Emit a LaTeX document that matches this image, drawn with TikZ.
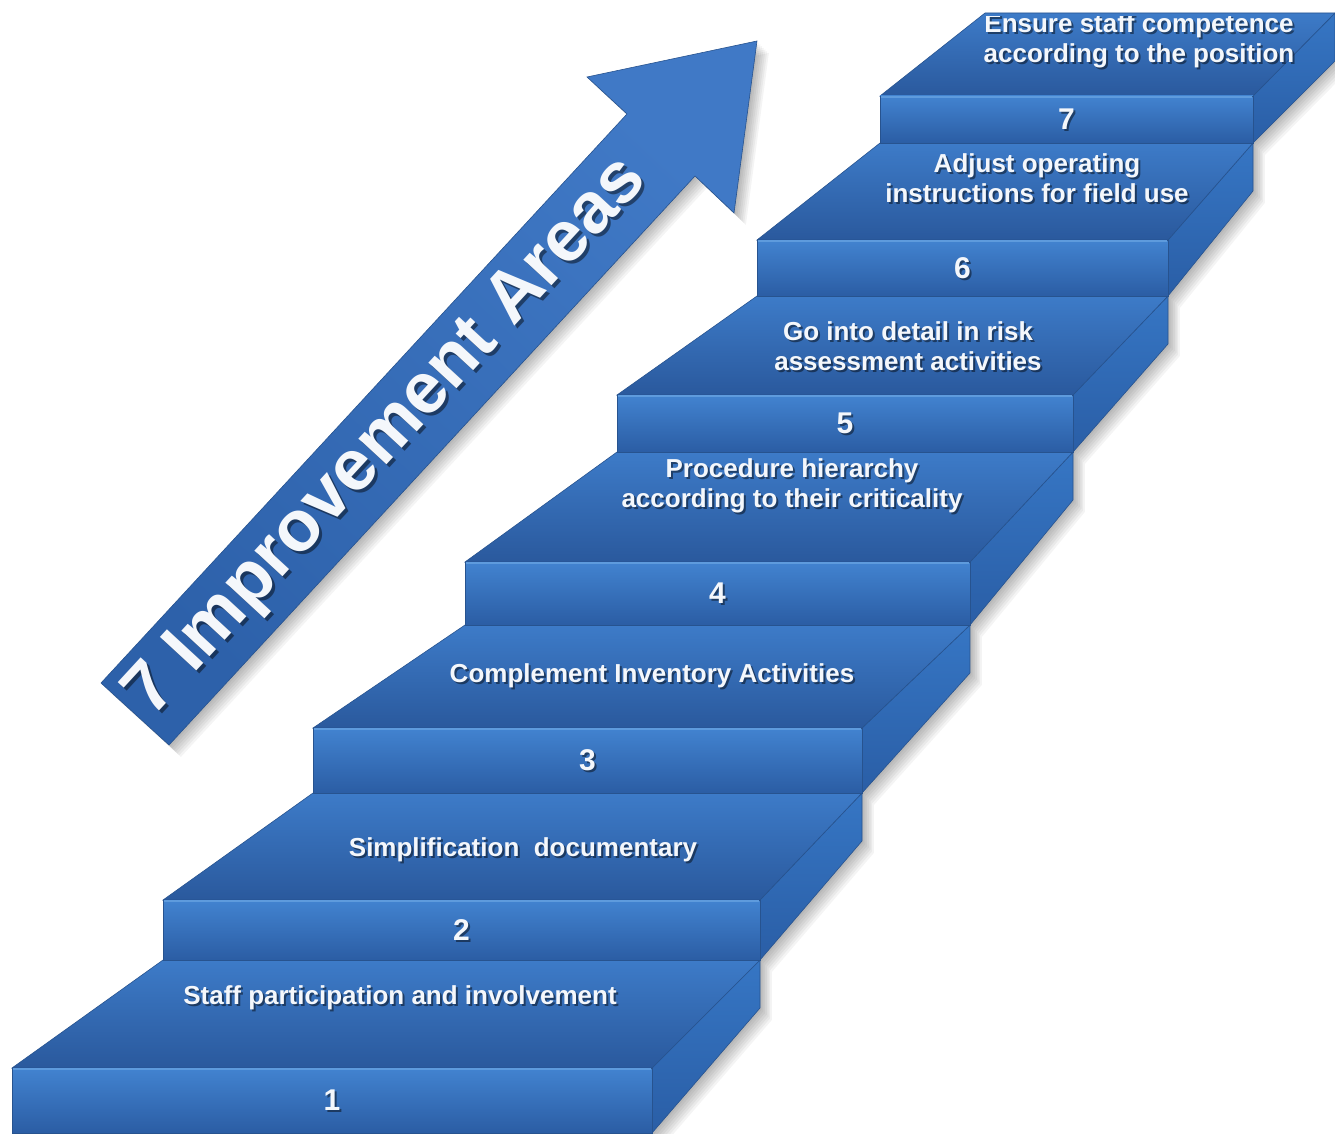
\documentclass[tikz,border=0pt]{standalone}
\usepackage{fontspec}
\setmainfont{Liberation Sans}
\definecolor{frontT}{HTML}{4283D0}
\definecolor{frontB}{HTML}{2B5DA4}
\definecolor{topT}{HTML}{3D7BC8}
\definecolor{topB}{HTML}{2A599D}
\definecolor{sideT}{HTML}{3676C4}
\definecolor{sideB}{HTML}{2A5EA6}
\definecolor{edgeC}{HTML}{27538F}
\definecolor{hiC}{HTML}{5E9BDD}
\definecolor{txtC}{HTML}{F4F7FB}
\definecolor{arrA}{HTML}{4079C6}
\definecolor{arrB}{HTML}{2D61AA}
\begin{document}
\begin{tikzpicture}[x=1pt,y=-1pt,
  frontface/.style={top color=frontT, bottom color=frontB, draw=edgeC, line width=0.6pt},
  topface/.style={top color=topT, bottom color=topB, draw=edgeC, line width=0.6pt},
  sideface/.style={top color=sideT, bottom color=sideB, draw=edgeC, line width=0.6pt},
  hiline/.style={draw=hiC, line width=1.2pt},
  steptext/.style={text=txtC, font=\fontsize{26}{30}\selectfont\bfseries, align=center, inner sep=0pt},
  stepnum/.style={text=txtC, font=\fontsize{30}{32}\selectfont\bfseries, inner sep=0pt},
  textshadow/.style={text=black, text opacity=0.45},
  softshadow/.style={fill=black, fill opacity=0.045},
  arrowbody/.style={left color=arrA, right color=arrB, shading angle=-43, draw=edgeC, line width=0.6pt},
  titletext/.style={text=txtC, font=\fontsize{72}{76}\selectfont\bfseries, inner sep=0pt},
]
\useasboundingbox (0,0) rectangle (1335,1134);
\fill[white] (0,0) rectangle (1335,1134);

\def\stairsil{(12,1133) -- (652,1133) -- (760,1008) -- (760,960) -- (862,841) -- (862,793) -- (970,673) -- (970,625) -- (1073,500) -- (1073,452) -- (1168,344) -- (1168,296) -- (1253,191) -- (1253,143) -- (1335,60) -- (1335,13) -- (985,13) -- (880,96) -- (880,143) -- (757,240) -- (757,296) -- (617,395) -- (617,452) -- (465,562) -- (465,625) -- (313,728) -- (313,793) -- (163,900) -- (163,960) -- (12,1068) -- cycle}
\def\arrsil{(101,683) -- (627,114) -- (587,77) -- (757,41) -- (734,213) -- (695,176) -- (169,745) -- cycle}

% soft shadows
\foreach \k in {1,...,7}{
  \path[softshadow, shift={(\k*1.7,\k*1.7)}] \stairsil;
  \path[softshadow, shift={(\k*1.7,\k*1.7)}] \arrsil;
}

% arrow
\path[arrowbody] \arrsil;
\node[titletext, textshadow, rotate=47.3] (titles) at (391,441) {7 Improvement Areas};
\node[titletext, rotate=47.3] (title) at (388,438) {7 Improvement Areas};

% steps
\foreach \i/\xl/\xr/\yt/\yb/\nxl/\nxr/\nyb in {1/12/652/1068/1133/163/760/960, 2/163/760/900/960/313/862/793, 3/313/862/728/793/465/970/625, 4/465/970/562/625/617/1073/452, 5/617/1073/395/452/757/1168/296, 6/757/1168/240/296/880/1253/143, 7/880/1253/96/143/985/1335/13}{
  \path[sideface] (\xr,\yt) -- (\nxr,\nyb) -- (\nxr,\nyb+48) -- (\xr,\yb) -- cycle;
  \path[topface] (\xl,\yt) -- (\xr,\yt) -- (\nxr,\nyb) -- (\nxl,\nyb) -- cycle;
  \path[frontface] (\xl,\yt) rectangle (\xr,\yb);
  \draw[hiline] (\xl+1,\yt+1) -- (\xr-1,\yt+1);
  \node[stepnum, textshadow] (ns\i) at ({(\xl+\xr)/2+2},{(\yt+\yb)/2+2}) {\i};
  \node[stepnum] (n\i) at ({(\xl+\xr)/2},{(\yt+\yb)/2}) {\i};
}

% step texts
\begin{scope}
\clip (0,17) rectangle (1335,1134);
\foreach \i/\x/\y/\t in {
  1/400/998/{Staff participation and involvement},
  2/523/850/{Simplification\ \ documentary},
  3/652/676/{Complement Inventory Activities},
  4/792/486/{Procedure hierarchy\\according to their criticality},
  5/908/346/{Go into detail in risk\\assessment activities},
  6/1037/178/{Adjust operating\\instructions for field use},
  7/1139/41/{Ensure staff competence\\according to the position}}{
  \node[steptext, textshadow] (ts\i) at (\x+2,\y+2) {\t};
  \node[steptext] (t\i) at (\x,\y) {\t};
}
\end{scope}
\end{tikzpicture}
\end{document}
